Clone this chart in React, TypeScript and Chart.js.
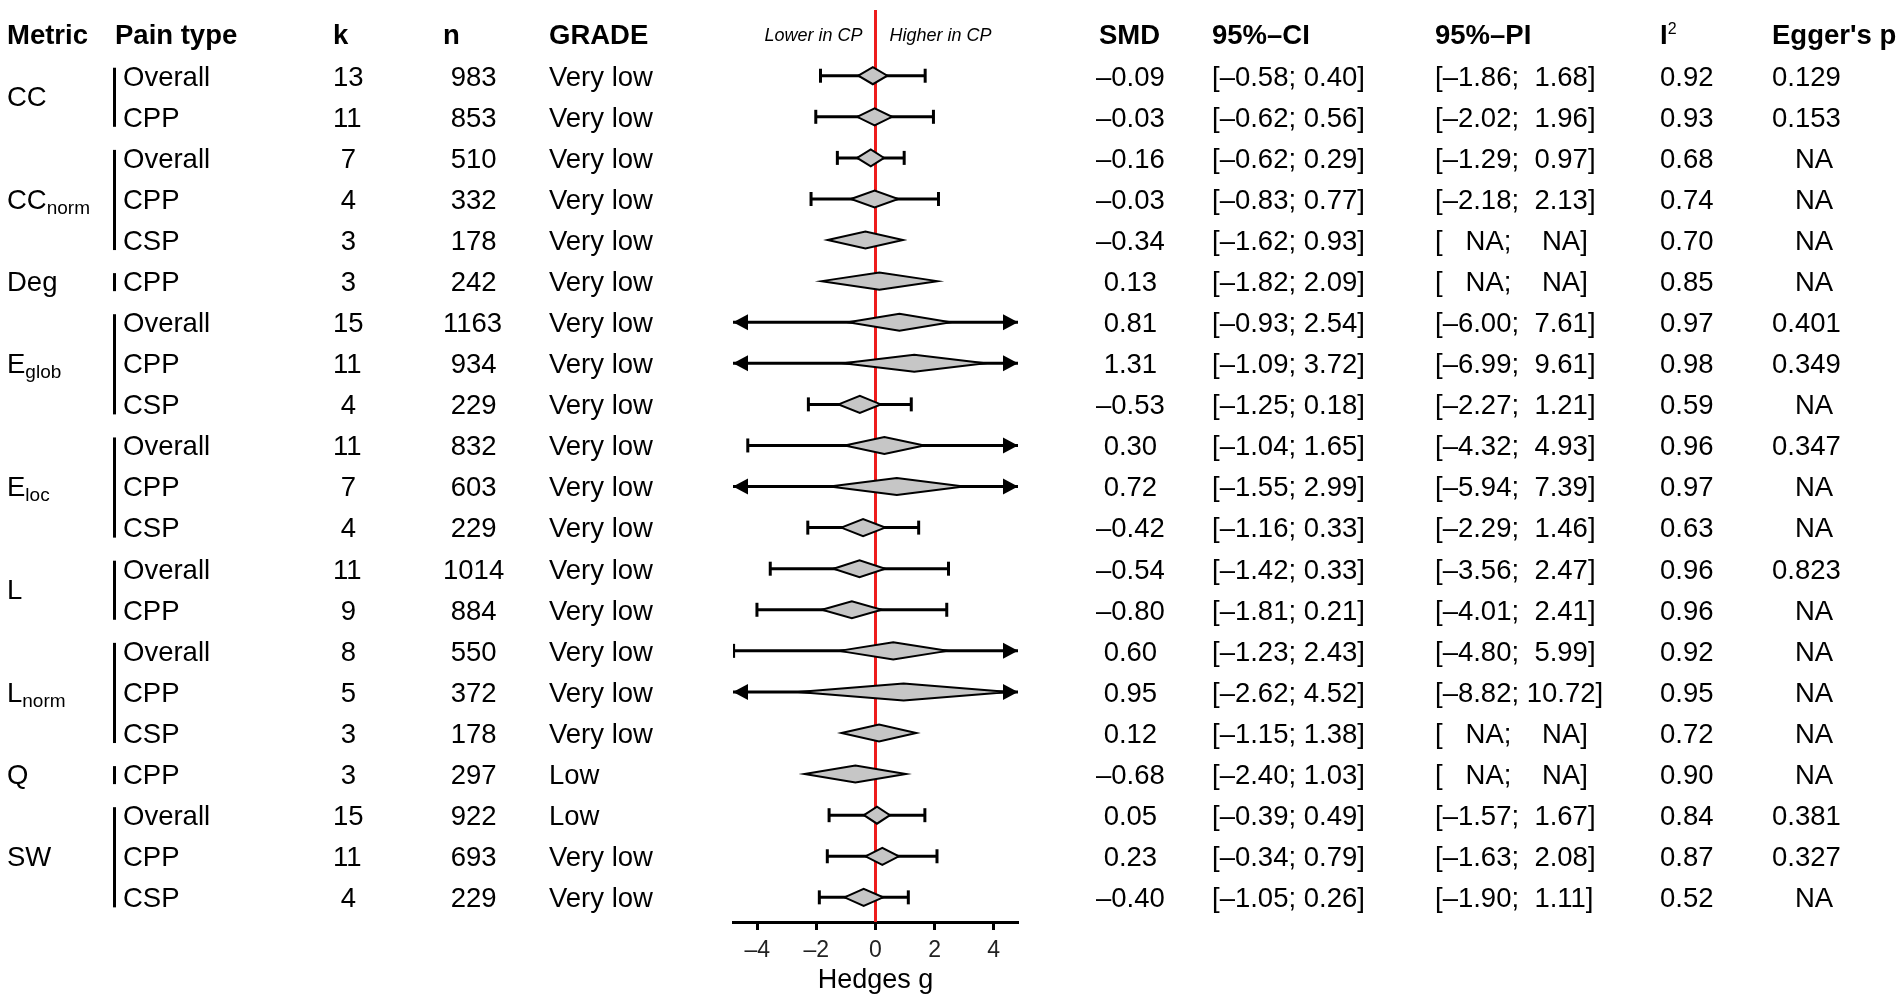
import React, { useEffect, useRef } from 'react';
import { Chart, registerables } from 'chart.js';

Chart.register(...registerables);

const FONT = '"Liberation Sans", Arial, Helvetica, sans-serif';

// ---------- data ----------
const HEADERS = ['Metric', 'Pain type', 'k', 'n', 'GRADE', 'SMD', '95%\u2013CI', '95%\u2013PI', 'I', "Egger's p"];
const EFFECT_LOWER_LABEL = 'Lower in CP';
const EFFECT_HIGHER_LABEL = 'Higher in CP';
const X_TITLE = 'Hedges g';
const X_TICKS = [-4, -2, 0, 2, 4];
const X_MIN = -4.82;
const X_MAX = 4.82;

const METRIC_BASE = ['CC', 'CC', 'Deg', 'E', 'E', 'L', 'L', 'Q', 'SW'];
const METRIC_SUB = ['', 'norm', '', 'glob', 'loc', '', 'norm', '', ''];
const GROUP_SIZE = [2, 3, 1, 3, 3, 2, 3, 1, 3];

const PAIN_TYPE = [
  'Overall', 'CPP',
  'Overall', 'CPP', 'CSP',
  'CPP',
  'Overall', 'CPP', 'CSP',
  'Overall', 'CPP', 'CSP',
  'Overall', 'CPP',
  'Overall', 'CPP', 'CSP',
  'CPP',
  'Overall', 'CPP', 'CSP',
];
const K = [13, 11, 7, 4, 3, 3, 15, 11, 4, 11, 7, 4, 11, 9, 8, 5, 3, 3, 15, 11, 4];
const N = [983, 853, 510, 332, 178, 242, 1163, 934, 229, 832, 603, 229, 1014, 884, 550, 372, 178, 297, 922, 693, 229];
const GRADE = [
  'Very low', 'Very low', 'Very low', 'Very low', 'Very low', 'Very low', 'Very low',
  'Very low', 'Very low', 'Very low', 'Very low', 'Very low', 'Very low', 'Very low',
  'Very low', 'Very low', 'Very low', 'Low', 'Low', 'Very low', 'Very low',
];
const SMD = [-0.09, -0.03, -0.16, -0.03, -0.34, 0.13, 0.81, 1.31, -0.53, 0.30, 0.72, -0.42, -0.54, -0.80, 0.60, 0.95, 0.12, -0.68, 0.05, 0.23, -0.40];
const CI_LO = [-0.58, -0.62, -0.62, -0.83, -1.62, -1.82, -0.93, -1.09, -1.25, -1.04, -1.55, -1.16, -1.42, -1.81, -1.23, -2.62, -1.15, -2.40, -0.39, -0.34, -1.05];
const CI_HI = [0.40, 0.56, 0.29, 0.77, 0.93, 2.09, 2.54, 3.72, 0.18, 1.65, 2.99, 0.33, 0.33, 0.21, 2.43, 4.52, 1.38, 1.03, 0.49, 0.79, 0.26];
const PI_LO: (number | null)[] = [-1.86, -2.02, -1.29, -2.18, null, null, -6.00, -6.99, -2.27, -4.32, -5.94, -2.29, -3.56, -4.01, -4.80, -8.82, null, null, -1.57, -1.63, -1.90];
const PI_HI: (number | null)[] = [1.68, 1.96, 0.97, 2.13, null, null, 7.61, 9.61, 1.21, 4.93, 7.39, 1.46, 2.47, 2.41, 5.99, 10.72, null, null, 1.67, 2.08, 1.11];
const I2 = [0.92, 0.93, 0.68, 0.74, 0.70, 0.85, 0.97, 0.98, 0.59, 0.96, 0.97, 0.63, 0.96, 0.96, 0.92, 0.95, 0.72, 0.90, 0.84, 0.87, 0.52];
const EGGER: (number | null)[] = [0.129, 0.153, null, null, null, null, 0.401, 0.349, null, 0.347, null, null, 0.823, null, null, null, null, null, 0.381, 0.327, null];

// ---------- formatting ----------
const DASH = '\u2013';
const num = (v: number, d: number) => (v < 0 ? DASH : '') + Math.abs(v).toFixed(d);
const pad = (s: string, w: number) => s.padStart(w, ' ');
const orNA = (v: number | null, d: number) => (v == null ? 'NA' : num(v, d));

const ROWS = PAIN_TYPE.map((_, i) => i);

// ---------- styles ----------
const COL_X = { metric: 7, bar: 113, painHead: 115, pain: 123, k: 333, n: 443, grade: 549, smd: 1096, ci: 1212, pi: 1435, i2: 1660, egger: 1772 };
const TEXT_SIZE = 27.5;
const SUB_SIZE = 19;
const RED = '#ee1c1c';
const DIAMOND_FILL = '#c6c6c6';
const X_AXIS_HEIGHT = 71;

function text(ctx: CanvasRenderingContext2D, s: string, x: number, yMid: number, size: number, weight = 'normal', style = 'normal', align: CanvasTextAlign = 'left') {
  ctx.font = `${style} ${weight} ${size}px ${FONT}`;
  ctx.textAlign = align;
  ctx.textBaseline = 'alphabetic';
  ctx.fillText(s, x, yMid + size * 0.358);
}

const forestPlugin = {
  id: 'forestTable',
  beforeDatasetsDraw(chart: any) {
    const { ctx, chartArea, scales } = chart;
    const x0 = scales.x.getPixelForValue(0);
    ctx.save();
    ctx.strokeStyle = RED;
    ctx.lineWidth = 3;
    ctx.beginPath();
    ctx.moveTo(x0, chartArea.top);
    ctx.lineTo(x0, chartArea.bottom);
    ctx.stroke();
    ctx.restore();
  },
  afterDatasetsDraw(chart: any) {
    const { ctx, scales } = chart;
    const xs = scales.x;
    const ys = scales.y;
    ctx.save();
    // arrows for prediction intervals beyond the axis
    ctx.fillStyle = '#000';
    ROWS.forEach((i) => {
      const lo = PI_LO[i];
      const hi = PI_HI[i];
      if (lo == null || hi == null) return;
      const yc = ys.getPixelForValue(i);
      if (lo < X_MIN) {
        const tip = xs.getPixelForValue(X_MIN);
        ctx.beginPath();
        ctx.moveTo(tip, yc);
        ctx.lineTo(tip + 15, yc - 8);
        ctx.lineTo(tip + 15, yc + 8);
        ctx.closePath();
        ctx.fill();
      }
      if (hi > X_MAX) {
        const tip = xs.getPixelForValue(X_MAX);
        ctx.beginPath();
        ctx.moveTo(tip, yc);
        ctx.lineTo(tip - 15, yc - 8);
        ctx.lineTo(tip - 15, yc + 8);
        ctx.closePath();
        ctx.fill();
      }
    });
    // diamonds
    ctx.lineWidth = 2;
    ctx.lineJoin = 'miter';
    ctx.strokeStyle = '#000';
    ctx.fillStyle = DIAMOND_FILL;
    ROWS.forEach((i) => {
      const yc = ys.getPixelForValue(i);
      const xl = xs.getPixelForValue(CI_LO[i]);
      const xr = xs.getPixelForValue(CI_HI[i]);
      const xc = xs.getPixelForValue(SMD[i]);
      ctx.beginPath();
      ctx.moveTo(xl, yc);
      ctx.lineTo(xc, yc - 8.5);
      ctx.lineTo(xr, yc);
      ctx.lineTo(xc, yc + 8.5);
      ctx.closePath();
      ctx.fill();
      ctx.stroke();
    });
    ctx.restore();
  },
  afterDraw(chart: any) {
    const { ctx, scales } = chart;
    const xs = scales.x;
    const ys = scales.y;
    ctx.save();
    ctx.fillStyle = '#000';
    const hy = ys.getPixelForValue(-1);
    // headers
    text(ctx, HEADERS[0], COL_X.metric, hy, TEXT_SIZE, 'bold');
    text(ctx, HEADERS[1], COL_X.painHead, hy, TEXT_SIZE, 'bold');
    text(ctx, HEADERS[2], COL_X.k, hy, TEXT_SIZE, 'bold');
    text(ctx, HEADERS[3], COL_X.n, hy, TEXT_SIZE, 'bold');
    text(ctx, HEADERS[4], COL_X.grade, hy, TEXT_SIZE, 'bold');
    text(ctx, HEADERS[5], COL_X.smd + 3, hy, TEXT_SIZE, 'bold');
    text(ctx, HEADERS[6], COL_X.ci, hy, TEXT_SIZE, 'bold');
    text(ctx, HEADERS[7], COL_X.pi, hy, TEXT_SIZE, 'bold');
    text(ctx, HEADERS[8], COL_X.i2, hy, TEXT_SIZE, 'bold');
    ctx.font = `bold ${TEXT_SIZE}px ${FONT}`;
    const iw = ctx.measureText(HEADERS[8]).width;
    ctx.font = `normal 16px ${FONT}`;
    ctx.textAlign = 'left';
    ctx.fillText('2', COL_X.i2 + iw, hy + TEXT_SIZE * 0.358 - 10);
    text(ctx, HEADERS[9], COL_X.egger, hy, TEXT_SIZE, 'bold');

    // direction labels
    const x0 = xs.getPixelForValue(0);
    text(ctx, EFFECT_LOWER_LABEL, x0 - 13, hy, 18, 'normal', 'italic', 'right');
    text(ctx, EFFECT_HIGHER_LABEL, x0 + 14, hy, 18, 'normal', 'italic', 'left');

    // metric groups
    let start = 0;
    GROUP_SIZE.forEach((sz, g) => {
      const y1 = ys.getPixelForValue(start);
      const y2 = ys.getPixelForValue(start + sz - 1);
      ctx.fillStyle = '#000';
      ctx.fillRect(COL_X.bar, y1 - 8, 3, y2 - y1 + 18);
      const yc = (y1 + y2) / 2;
      text(ctx, METRIC_BASE[g], COL_X.metric, yc, TEXT_SIZE);
      if (METRIC_SUB[g]) {
        ctx.font = `normal ${TEXT_SIZE}px ${FONT}`;
        const bw = ctx.measureText(METRIC_BASE[g]).width;
        ctx.font = `normal ${SUB_SIZE}px ${FONT}`;
        ctx.textAlign = 'left';
        ctx.fillText(METRIC_SUB[g], COL_X.metric + bw, yc + TEXT_SIZE * 0.358 + 5);
      }
      start += sz;
    });

    // rows
    ROWS.forEach((i) => {
      const yc = ys.getPixelForValue(i);
      text(ctx, PAIN_TYPE[i], COL_X.pain, yc, TEXT_SIZE);
      text(ctx, pad(String(K[i]), 2), COL_X.k, yc, TEXT_SIZE);
      text(ctx, pad(String(N[i]), 4), COL_X.n, yc, TEXT_SIZE);
      text(ctx, GRADE[i], COL_X.grade, yc, TEXT_SIZE);
      text(ctx, pad(num(SMD[i], 2), 5), COL_X.smd, yc, TEXT_SIZE);
      text(ctx, `[${pad(num(CI_LO[i], 2), 5)}; ${pad(num(CI_HI[i], 2), 4)}]`, COL_X.ci, yc, TEXT_SIZE);
      text(ctx, `[${pad(orNA(PI_LO[i], 2), 5)}; ${pad(orNA(PI_HI[i], 2), 5)}]`, COL_X.pi, yc, TEXT_SIZE);
      text(ctx, num(I2[i], 2), COL_X.i2, yc, TEXT_SIZE);
      const e = EGGER[i];
      text(ctx, pad(e == null ? 'NA' : e.toFixed(3), 5), COL_X.egger, yc, TEXT_SIZE);
    });
    ctx.restore();
  },
};

export default function App() {
  const ref = useRef<HTMLCanvasElement>(null);
  useEffect(() => {
    const canvas = ref.current;
    if (!canvas) return;

    const whiskerSets = ROWS.filter((i) => PI_LO[i] != null && PI_HI[i] != null).map((i) => ({
      label: `PI ${i}`,
      data: [
        { x: PI_LO[i] as number, y: i },
        { x: PI_HI[i] as number, y: i },
      ],
      showLine: true,
      borderColor: '#000',
      borderWidth: 3,
      pointRadius: 0,
      fill: false,
    }));

    const caps: { x: number; y: number }[] = [];
    ROWS.forEach((i) => {
      const lo = PI_LO[i];
      const hi = PI_HI[i];
      if (lo == null || hi == null) return;
      if (lo >= X_MIN) caps.push({ x: lo, y: i });
      if (hi <= X_MAX) caps.push({ x: hi, y: i });
    });

    const chart = new Chart(canvas, {
      type: 'scatter',
      data: {
        datasets: [
          {
            label: 'caps',
            data: caps,
            pointStyle: 'line',
            pointRadius: 7,
            pointRotation: 90,
            pointBorderWidth: 3,
            pointBorderColor: '#000',
            borderColor: '#000',
            showLine: false,
          } as any,
          ...whiskerSets,
        ],
      },
      options: {
        responsive: true,
        maintainAspectRatio: false,
        animation: false,
        devicePixelRatio: 1,
        layout: { padding: { left: 733, right: 884, top: 7, bottom: 10 } },
        plugins: { legend: { display: false }, tooltip: { enabled: false } },
        scales: {
          x: {
            type: 'linear',
            min: X_MIN,
            max: X_MAX,
            afterBuildTicks: (s: any) => {
              s.ticks = X_TICKS.map((v) => ({ value: v }));
            },
            afterFit: (s: any) => {
              s.height = X_AXIS_HEIGHT;
            },
            grid: { display: true, drawOnChartArea: false, drawTicks: true, tickLength: 8, tickWidth: 3, tickColor: '#000' },
            border: { display: true, color: '#000', width: 3 },
            ticks: {
              font: { size: 23, family: FONT },
              color: '#222',
              padding: 7,
              maxRotation: 0,
              autoSkip: false,
              callback: (v: any) => (Number(v) < 0 ? DASH : '') + Math.abs(Number(v)),
            },
            title: { display: true, text: X_TITLE, font: { size: 27, family: FONT, lineHeight: 0.9 }, color: '#000', padding: { top: 0, bottom: 0 } },
          },
          y: { type: 'linear', reverse: true, min: -1.6, max: 20.6, display: false },
        },
      },
      plugins: [forestPlugin],
    } as any);
    return () => chart.destroy();
  }, []);

  return (
    <div style={{ position: 'fixed', left: 0, top: 0, width: 1902, height: 1003, background: '#fff' }}>
      <canvas ref={ref} />
    </div>
  );
}
